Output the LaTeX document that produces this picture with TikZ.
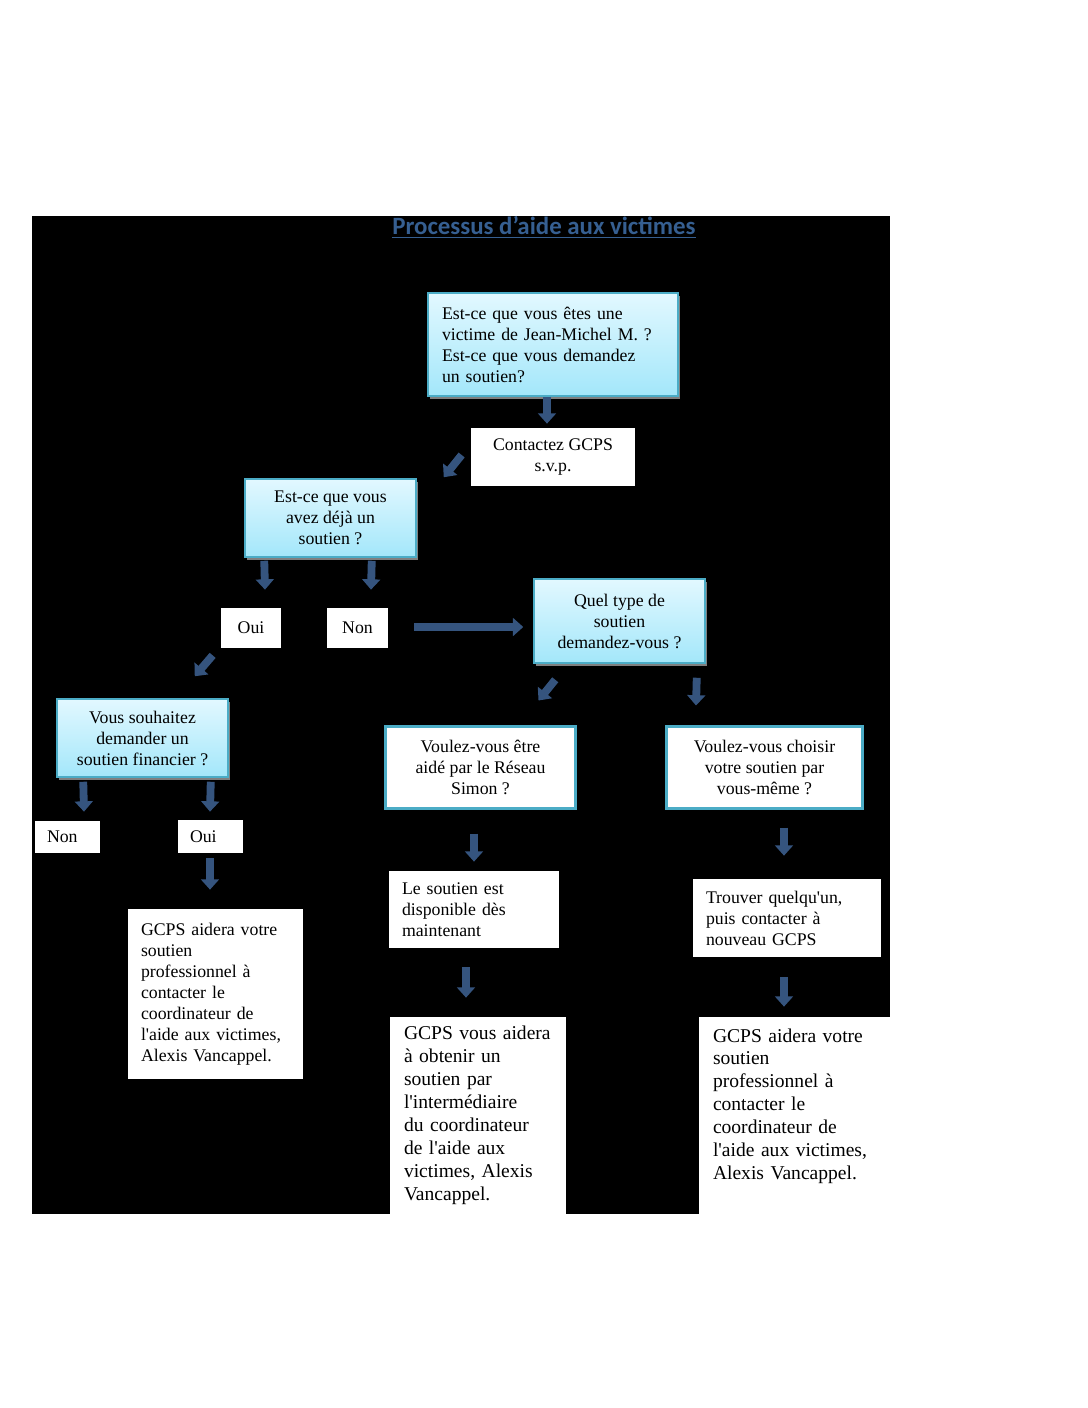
\documentclass[tikz,border=0pt]{standalone}
\usepackage{fontspec}
\setmainfont{Liberation Serif}[Ligatures=TeXOff]
\newfontfamily\titlefont{Carlito}
\usepackage{tikz}
\usetikzlibrary{arrows.meta,shadows}
\definecolor{qtop}{HTML}{E2F8FF}
\definecolor{qbot}{HTML}{A3E7FA}
\definecolor{qline}{HTML}{4BACC6}
\definecolor{arrblue}{HTML}{35547E}
\definecolor{titleblue}{HTML}{365F91}
\newdimen\pix
\pix=0.5625pt
\begin{document}
\begin{tikzpicture}[x=1\pix,y=-1\pix,
   font=\fontsize{10}{11.8}\selectfont,
   sz/.style 2 args={minimum width=#1\pix,minimum height=#2\pix},
   qbox/.style={draw=qline,line width=1.5\pix,top color=qtop,bottom color=qbot,
      drop shadow={shadow xshift=2\pix,shadow yshift=-3\pix,fill=black!50,opacity=1},
      inner sep=0pt,align=center},
   rbox/.style={draw=qline,line width=3\pix,fill=white,inner sep=0pt,align=center},
   wbox/.style={fill=white,inner sep=0pt,align=center},
   lbox/.style n args={3}{fill=white,text width=#1\pix,minimum height=#2\pix,
      inner xsep=#3\pix,inner ysep=0pt,align=left},
   blk/.style={draw=arrblue,line width=4.4pt,-{Triangle[width=10pt,length=5.8pt]}}]
   \useasboundingbox (0,0) rectangle (1088,1408);
   \fill[white] (0,0) rectangle (1088,1408);
   \fill[black] (32,216) rectangle (890,1214);
   \path (544,227) node (title) [font=\titlefont\bfseries\fontsize{14}{16}\selectfont,text=titleblue]
            {\underline{Processus d’aide aux victimes}};
   \path (553,344.5) node (q1) [qbox,text width=222\pix,minimum height=103\pix,inner xsep=14\pix,align=left]
            {Est-ce que vous êtes une\\victime de Jean-Michel M. ?\\Est-ce que vous demandez\\un soutien?}
         (553,457) node (contact) [wbox,sz={164}{58}] {Contactez GCPS\\s.v.p.}
         (330.5,518) node (q2) [qbox,sz={171}{78}] {Est-ce que vous\\avez déjà un\\soutien ?}
         (251,628) node (oui1) [wbox,sz={60}{40}] {Oui}
         (357.5,628) node (non1) [wbox,sz={61}{40}] {Non}
         (619.5,621) node (q3) [qbox,sz={171}{84}] {Quel type de\\soutien\\demandez-vous ?}
         (142.5,738) node (q4) [qbox,sz={171}{78}] {Vous souhaitez\\demander un\\soutien financier ?}
         (67.5,837) node (non2) [lbox={41}{32}{12}] {Non}
         (210.5,836.5) node (oui2) [lbox={41}{33}{12}] {Oui}
         (215.5,994) node (finA) [lbox={149}{170}{13}]
            {GCPS aidera votre\\soutien\\professionnel à\\contacter le\\coordinateur de\\l'aide aux victimes,\\Alexis Vancappel.}
         (480.5,767.5) node (reseau) [rbox,sz={190}{82}] {Voulez-vous être\\aidé par le Réseau\\Simon ?}
         (764.5,767.5) node (choisir) [rbox,sz={196}{82}] {Voulez-vous choisir\\votre soutien par\\vous-même ?}
         (474,909.5) node (dispo) [lbox={144}{77}{13}] {Le soutien est\\disponible dès\\maintenant}
         (787,918) node (trouver) [lbox={162}{78}{13}] {Trouver quelqu'un,\\puis contacter à\\nouveau GCPS}
         (478,1115.5) node (finB) [lbox={148}{197}{14},font=\fontsize{11}{12.9}\selectfont]
            {GCPS vous aidera\\à obtenir un\\soutien par\\l'intermédiaire\\du coordinateur\\de l'aide aux\\victimes, Alexis\\Vancappel.}
         (794.5,1115.5) node (finC) [lbox={163}{197}{14},font=\fontsize{11}{12.9}\selectfont]
            {GCPS aidera votre\\soutien\\professionnel à\\contacter le\\coordinateur de\\l'aide aux victimes,\\Alexis Vancappel.\\~};
   \draw[blk] ([shift={(-6,0)}]q1.south) -- ([shift={(-6,-4)}]contact.north);
   \draw[blk] ([shift={(-9,-2)}]contact.west) -- ([shift={(27,-1)}]q2.north east);
   \draw[blk] ([shift={(20,3)}]q2.south west) -- ([shift={(14,-18)}]oui1.north);
   \draw[blk] ([shift={(-45,3)}]q2.south east) -- ([shift={(13.5,-18)}]non1.north);
   \draw[blk] ([shift={(26,-1)}]non1.east) -- ([shift={(-10,6)}]q3.west);
   \draw[blk] ([shift={(-8,7)}]oui1.south west) -- ([shift={(-34,-22)}]q4.north east);
   \draw[blk] ([shift={(22,16)}]q3.south west) -- ([shift={(-38.5,-24.5)}]reseau.north east);
   \draw[blk] ([shift={(-9,14)}]q3.south east) -- ([shift={(-68.5,-19.5)}]choisir.north);
   \draw[blk] ([shift={(27,4)}]q4.south west) -- ([shift={(16.5,-9)}]non2.north);
   \draw[blk] ([shift={(-18,4)}]q4.south east) -- ([shift={(-0.5,-8)}]oui2.north);
   \draw[blk] ([shift={(-0.5,5)}]oui2.south) -- ([shift={(-5.5,-19)}]finA.north);
   \draw[blk] ([shift={(-6.5,23.5)}]reseau.south) -- ([shift={(0,-9)}]dispo.north);
   \draw[blk] ([shift={(19.5,17.5)}]choisir.south) -- ([shift={(-3,-23)}]trouver.north);
   \draw[blk] ([shift={(-8,19)}]dispo.south) -- ([shift={(-12,-19)}]finB.north);
   \draw[blk] ([shift={(-3,20)}]trouver.south) -- ([shift={(-10.5,-10)}]finC.north);
\end{tikzpicture}
\end{document}
